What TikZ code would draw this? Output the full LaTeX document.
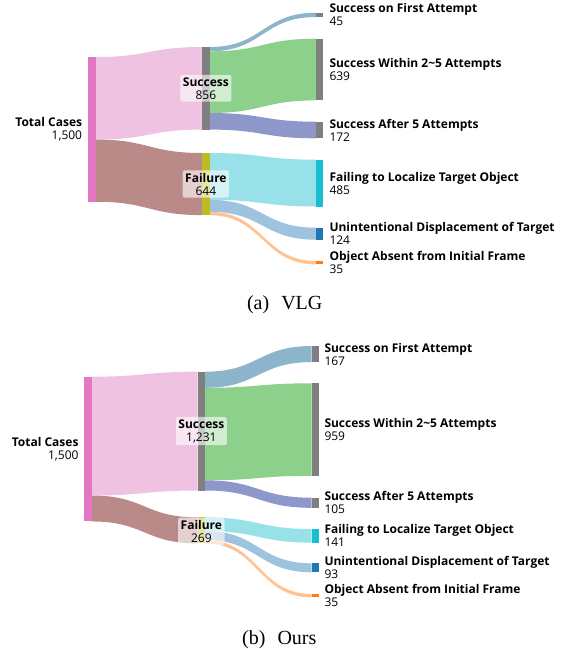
\documentclass[tikz,border=0pt]{standalone}
\usepackage{fontspec}
\newfontfamily\lblfont{Open Sans}
\newfontfamily\capfont{Liberation Serif}
\definecolor{cTot}{HTML}{E377C2}
\definecolor{cGray}{HTML}{7F7F7F}
\definecolor{cFail}{HTML}{BCBD22}
\definecolor{cCyan}{HTML}{17BECF}
\definecolor{cBlue}{HTML}{1F77B4}
\definecolor{cOrange}{HTML}{FF7F0E}
\definecolor{lTS}{HTML}{F0C2E2}
\definecolor{lTF}{HTML}{B98A87}
\definecolor{lFirst}{HTML}{8CB5CC}
\definecolor{lWithin}{HTML}{8DD08C}
\definecolor{lAfter}{HTML}{8E97C9}
\definecolor{lFailing}{HTML}{98E1E9}
\definecolor{lUnint}{HTML}{9EC3DE}
\definecolor{lAbsent}{HTML}{FFC290}
\newcommand{\sband}[8]{\fill[#8] (#1,#2) .. controls (#7,#2) and (#7,#5) .. (#4,#5) -- (#4,#6) .. controls (#7,#6) and (#7,#3) .. (#1,#3) -- cycle;}
\tikzset{
  rlab/.style={anchor=west,align=left,font=\lblfont\fontsize{12}{13}\selectfont,inner sep=0pt},
  llab/.style={anchor=east,align=right,font=\lblfont\fontsize{12}{13}\selectfont,inner sep=0pt},
  mlab/.style={align=center,font=\lblfont\fontsize{12}{13}\selectfont,fill=white,fill opacity=0.6,text opacity=1,rounded corners=2pt,inner xsep=2.5pt,inner ysep=2.5pt},
  caplab/.style={anchor=base,font=\capfont\fontsize{20}{24}\selectfont,inner sep=0pt}
}
\begin{document}
\begin{tikzpicture}[x=1pt,y=-1pt]
\useasboundingbox (0,0) rectangle (568,649);
% ================= (a) VLG =================
% links
\sband{96}{57}{139.6}{202}{47}{129.6}{149}{lTS}
\sband{96}{139.6}{201.75}{202}{153}{215.1}{149}{lTF}
\sband{209.7}{47}{51.3}{316}{12.7}{17.0}{262.85}{lFirst}
\sband{209.7}{51.3}{113.0}{316}{38.7}{100.4}{262.85}{lWithin}
\sband{209.7}{113.0}{129.6}{316}{121.7}{138.3}{262.85}{lAfter}
\sband{209.7}{153}{199.8}{316}{159.7}{206.5}{262.85}{lFailing}
\sband{209.7}{199.8}{211.8}{316}{227.7}{239.7}{262.85}{lUnint}
\sband{209.7}{211.8}{215.2}{316}{261}{264.4}{262.85}{lAbsent}
% bars
\fill[cTot] (88.3,57) rectangle (96,201.75);
\fill[cGray] (202,47) rectangle (209.7,129.6);
\fill[cFail] (202,153) rectangle (209.7,215.1);
\fill[cGray] (316,12.7) rectangle (323.3,17.0);
\fill[cGray] (316,38.7) rectangle (323.3,100.4);
\fill[cGray] (316,121.7) rectangle (323.3,138.3);
\fill[cCyan] (316,159.7) rectangle (323.3,206.5);
\fill[cBlue] (316,227.7) rectangle (323.3,239.7);
\fill[cOrange] (316,261) rectangle (323.3,264.4);
% labels
\node[llab] (aTot) at (82.3,129.4) {\textbf{Total Cases}\\1,500};
\node[mlab] (aSuc) at (205.9,88.3) {\textbf{Success}\\856};
\node[mlab] (aFail) at (205.9,184.0) {\textbf{Failure}\\644};
\node[rlab] (aR1) at (329.3,14.85) {\textbf{Success on First Attempt}\\45};
\node[rlab] (aR2) at (329.3,69.55) {\textbf{Success Within 2\textasciitilde5 Attempts}\\639};
\node[rlab] (aR3) at (329.3,130) {\textbf{Success After 5 Attempts}\\172};
\node[rlab] (aR4) at (329.3,183.1) {\textbf{Failing to Localize Target Object}\\485};
\node[rlab] (aR5) at (329.3,233.7) {\textbf{Unintentional Displacement of Target}\\124};
\node[rlab] (aR6) at (329.3,262.7) {\textbf{Object Absent from Initial Frame}\\35};
\node[caplab] (capA) at (284.7,309.3) {(a)\hspace{0.6em}VLG};
% ================= (b) Ours =================
\sband{91.7}{376.7}{495.5}{197.7}{371.7}{490.5}{144.7}{lTS}
\sband{91.7}{495.5}{521.45}{197.7}{517.4}{543.4}{144.7}{lTF}
\sband{205}{371.7}{387.8}{311.7}{346}{362.1}{258.35}{lFirst}
\sband{205}{387.8}{480.3}{311.7}{383.3}{475.8}{258.35}{lWithin}
\sband{205}{480.3}{490.5}{311.7}{497.7}{507.8}{258.35}{lAfter}
\sband{205}{517.4}{531}{311.7}{529}{542.6}{258.35}{lFailing}
\sband{205}{531}{540}{311.7}{563.3}{572.3}{258.35}{lUnint}
\sband{205}{540}{543.4}{311.7}{594}{597.4}{258.35}{lAbsent}
\fill[cTot] (84.3,376.7) rectangle (91.7,521.45);
\fill[cGray] (197.7,371.7) rectangle (205,490.5);
\fill[cFail] (197.7,517.4) rectangle (205,543.4);
\fill[cGray] (311.7,346) rectangle (319,362.1);
\fill[cGray] (311.7,383.3) rectangle (319,475.8);
\fill[cGray] (311.7,497.7) rectangle (319,507.8);
\fill[cCyan] (311.7,529) rectangle (319,542.6);
\fill[cBlue] (311.7,563.3) rectangle (319,572.3);
\fill[cOrange] (311.7,594) rectangle (319,597.4);
\node[llab] (bTot) at (78.7,449.1) {\textbf{Total Cases}\\1,500};
\node[mlab] (bSuc) at (201.35,431.1) {\textbf{Success}\\1,231};
\node[mlab] (bFail) at (201.35,531.3) {\textbf{Failure}\\269};
\node[rlab] (bR1) at (324.3,354) {\textbf{Success on First Attempt}\\167};
\node[rlab] (bR2) at (324.3,429.5) {\textbf{Success Within 2\textasciitilde5 Attempts}\\959};
\node[rlab] (bR3) at (324.3,502.7) {\textbf{Success After 5 Attempts}\\105};
\node[rlab] (bR4) at (324.3,535.8) {\textbf{Failing to Localize Target Object}\\141};
\node[rlab] (bR5) at (324.3,567.8) {\textbf{Unintentional Displacement of Target}\\93};
\node[rlab] (bR6) at (324.3,595.7) {\textbf{Object Absent from Initial Frame}\\35};
\node[caplab] (capB) at (279.3,644) {(b)\hspace{0.6em}Ours};
\end{tikzpicture}
\end{document}
